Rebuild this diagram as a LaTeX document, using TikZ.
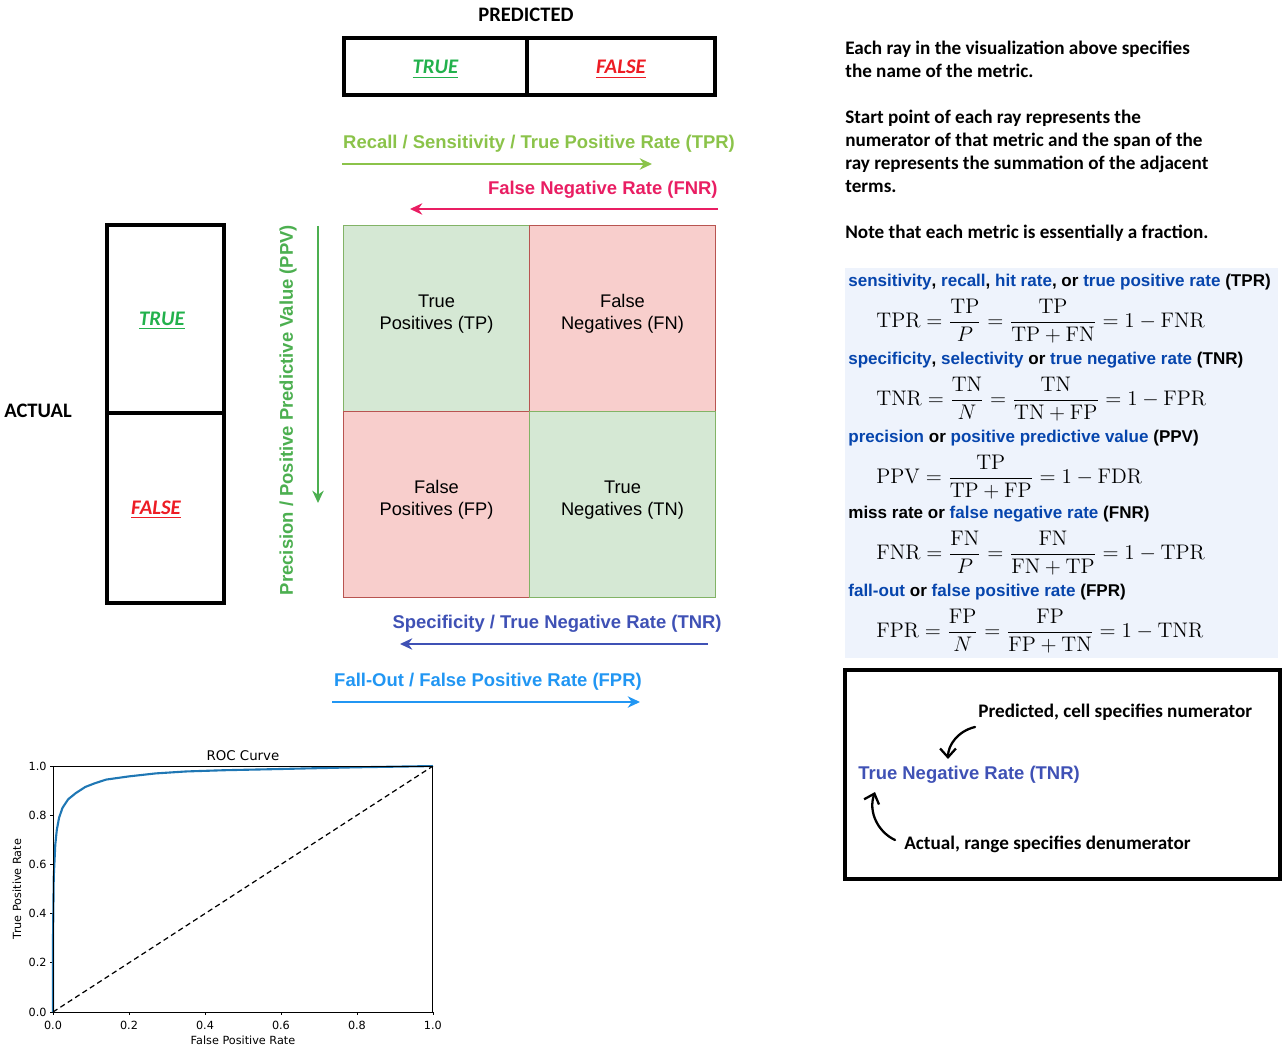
\documentclass[tikz,border=0pt]{standalone}
\usepackage{fontspec}
\usepackage{amsmath}
\usepackage{tikz}
\usetikzlibrary{arrows.meta,positioning}

\newfontfamily\calfont{Carlito}
\newfontfamily\arfont{Liberation Sans}
\newfontfamily\djfont{DejaVu Sans}

\definecolor{paintgreen}{HTML}{22B14C}
\definecolor{paintred}{HTML}{ED1C24}
\definecolor{tprgreen}{HTML}{8BC34A}
\definecolor{fnrpink}{HTML}{E91E63}
\definecolor{ppvgreen}{HTML}{4CAF50}
\definecolor{tnrblue}{HTML}{3F51B5}
\definecolor{fprblue}{HTML}{2196F3}
\definecolor{cellgreen}{HTML}{D5E8D4}
\definecolor{cellgreenline}{HTML}{82B366}
\definecolor{cellred}{HTML}{F8CECC}
\definecolor{cellredline}{HTML}{B85450}
\definecolor{wikilink}{HTML}{0645AD}
\definecolor{wikibg}{HTML}{EEF3FC}
\definecolor{rocblue}{HTML}{1F77B4}

\newcommand{\wl}[1]{\textcolor{wikilink}{#1}}

\begin{document}
\begin{tikzpicture}
    [x=0.02cm,y=-0.02cm,
     cell/.style={draw,line width=0.8pt,minimum width=3.72cm,minimum height=3.72cm,inner sep=0pt,outer sep=0pt,align=center,text depth=7pt,font=\arfont\fontsize{10.4}{12.5}\selectfont},
     poscell/.style={cell,fill=cellgreen,draw=cellgreenline},
     negcell/.style={cell,fill=cellred,draw=cellredline},
     headbox/.style={draw,line width=2.3pt,inner sep=0pt,outer sep=0pt,font=\calfont\bfseries\itshape\fontsize{11.8}{13}\selectfont},
     title/.style={font=\calfont\bfseries\fontsize{11.7}{13}\selectfont,inner sep=0pt},
     note/.style={font=\calfont\bfseries\fontsize{10.9}{12}\selectfont,inner sep=0pt,anchor=base west},
     ray/.style={line width=1pt,-{Stealth[length=7pt,width=6.5pt]}},
     raylabel/.style={font=\arfont\bfseries\fontsize{10.5}{12}\selectfont,inner sep=0pt},
     wikihead/.style={font=\arfont\bfseries\fontsize{9.7}{11}\selectfont,inner sep=0pt,anchor=west},
     formula/.style={font=\fontsize{12}{14}\selectfont,inner sep=0pt,anchor=west},
     hand/.style={line width=1.3pt,line cap=round,-{Straight Barb[length=5pt,width=9pt]}},
     tick/.style={font=\djfont\fontsize{6.4}{7}\selectfont,inner sep=1.5pt}]
    \useasboundingbox (0,0) rectangle (1286,1054);

    \node[title] (pred) at (526,15) {PREDICTED};
    \node[headbox,minimum width=3.66cm,minimum height=1.14cm,text height=10pt,text depth=1.5pt] (ptrue) at (435.5,66.5) {\textcolor{paintgreen}{\underline{TRUE}}};
    \node[headbox,minimum width=3.76cm,minimum height=1.14cm,text height=10pt,text depth=1.5pt,right=0pt of ptrue] (pfalse) {\textcolor{paintred}{\underline{FALSE}}};

    \node[title] (act) at (38,411) {ACTUAL};
    \node[headbox,minimum width=2.34cm,minimum height=3.76cm,text height=8.5pt,text depth=1.5pt] (atrue) at (165.5,319) {\textcolor{paintgreen}{\underline{TRUE}}\kern4pt};
    \node[headbox,minimum width=2.34cm,minimum height=3.8cm,text height=8.5pt,text depth=1.5pt,below=0pt of atrue] (afalse) {\textcolor{paintred}{\underline{FALSE}}\kern10.8pt};

    \node[poscell] (tp) at (436.5,318.5) {True\\Positives (TP)};
    \node[negcell,right=0pt of tp] (fn) {False\\Negatives (FN)};
    \node[negcell,below=0pt of tp] (fp) {False\\Positives (FP)};
    \node[poscell,below=0pt of fn] (tn) {True\\Negatives (TN)};

    \node[raylabel,tprgreen] (tprL) at (539,144) {Recall / Sensitivity / True Positive Rate (TPR)};
    \node[raylabel,fnrpink,anchor=east] (fnrL) at (718,190) {False Negative Rate (FNR)};
    \node[raylabel,ppvgreen,rotate=90] (ppvL) at (288,410) {Precision / Positive Predictive Value (PPV)};
    \node[raylabel,tnrblue,anchor=east] (tnrL) at (722,624) {Specificity / True Negative Rate (TNR)};
    \node[raylabel,fprblue] (fprL) at (488,682) {Fall-Out / False Positive Rate (FPR)};

    \coordinate (tprS) at (342,164); \coordinate (tprE) at (652,164);
    \coordinate (fnrS) at (718,209); \coordinate (fnrE) at (410,209);
    \coordinate (ppvS) at (318,226); \coordinate (ppvE) at (318,503);
    \coordinate (tnrS) at (708,644); \coordinate (tnrE) at (400,644);
    \coordinate (fprS) at (332,702); \coordinate (fprE) at (640,702);
    \foreach \from/\to/\col in {tprS/tprE/tprgreen,fnrS/fnrE/fnrpink,ppvS/ppvE/ppvgreen,tnrS/tnrE/tnrblue,fprS/fprE/fprblue}
      \draw [ray,\col] (\from) -- (\to);

    \foreach \y/\t in {55/Each ray in the visualization above specifies,
                       78/the name of the metric.,
                       124/Start point of each ray represents the,
                       147/numerator of that metric and the span of the,
                       170/ray represents the summation of the adjacent,
                       193/terms.,
                       239/Note that each metric is essentially a fraction.}
      \node[note] (note\y) at (845,\y) {\t};

    \fill[wikibg] (845,268) rectangle (1278,658);
    \node[wikihead] (h1) at (848,282) {\wl{sensitivity}, \wl{recall}, \wl{hit rate}, or \wl{true positive rate} (TPR)};
    \node[formula] (f1) at (876,321) {$\displaystyle \mathrm{TPR}=\frac{\mathrm{TP}}{P}=\frac{\mathrm{TP}}{\mathrm{TP}+\mathrm{FN}}=1-\mathrm{FNR}$};
    \node[wikihead] (h2) at (848,360) {\wl{specificity}, \wl{selectivity} or \wl{true negative rate} (TNR)};
    \node[formula] (f2) at (876,399) {$\displaystyle \mathrm{TNR}=\frac{\mathrm{TN}}{N}=\frac{\mathrm{TN}}{\mathrm{TN}+\mathrm{FP}}=1-\mathrm{FPR}$};
    \node[wikihead] (h3) at (848,438) {\wl{precision} or \wl{positive predictive value} (PPV)};
    \node[formula] (f3) at (876,477) {$\displaystyle \mathrm{PPV}=\frac{\mathrm{TP}}{\mathrm{TP}+\mathrm{FP}}=1-\mathrm{FDR}$};
    \node[wikihead] (h4) at (848,514) {miss rate or \wl{false negative rate} (FNR)};
    \node[formula] (f4) at (876,553) {$\displaystyle \mathrm{FNR}=\frac{\mathrm{FN}}{P}=\frac{\mathrm{FN}}{\mathrm{FN}+\mathrm{TP}}=1-\mathrm{TPR}$};
    \node[wikihead] (h5) at (848,592) {\wl{fall-out} or \wl{false positive rate} (FPR)};
    \node[formula] (f5) at (876,631) {$\displaystyle \mathrm{FPR}=\frac{\mathrm{FP}}{N}=\frac{\mathrm{FP}}{\mathrm{FP}+\mathrm{TN}}=1-\mathrm{TNR}$};

    \node[draw,line width=2.3pt,minimum width=8.7cm,minimum height=4.18cm,inner sep=0pt] (keybox) at (1062.5,774.5) {};
    \node[raylabel,tnrblue,anchor=west] (tnrex) at (858,775) {True Negative Rate (TNR)};
    \node[note,anchor=west] (predex) at (978,712) {Predicted, cell specifies numerator};
    \node[note,anchor=west] (actex) at (904,844) {Actual, range specifies denumerator};
    \coordinate (pa1) at (975,727); \coordinate (pa2) at (948,759);
    \coordinate (aa1) at (895,840); \coordinate (aa2) at (875,792);
    \draw[hand] (pa1) .. controls (958,731) and (948,745) .. (pa2);
    \draw[hand] (aa1) .. controls (878,832) and (868,812) .. (aa2);

    \begin{scope}[shift={(53,1012)},x=7.6cm,y=4.92cm]
      \node[tick,font=\djfont\fontsize{7.6}{8}\selectfont,above] (roct) at (0.5,1.01) {ROC Curve};
      \foreach \v in {0.0,0.2,0.4,0.6,0.8,1.0} {
        \draw[line width=0.4pt] (\v,0) -- (\v,-0.014);
        \node[tick,below,yshift=-1.5pt] (xt\v) at (\v,-0.014) {\v};
        \draw[line width=0.4pt] (0,\v) -- (-0.009,\v);
        \node[tick,left] (yt\v) at (-0.009,\v) {\v};
      }
      \node[tick,below=12pt] (xlab) at (0.5,0) {False Positive Rate};
      \node[tick,rotate=90] (ylab) at (-0.095,0.5) {True Positive Rate};
      \draw[dashed,line width=0.7pt,dash pattern=on 3pt off 2pt] (0,0) -- (1,1);
      \draw[rocblue,line width=1.2pt,line join=round] plot coordinates {(0,0) (0,0.3) (0.002,0.55) (0.006,0.68) (0.01,0.74) (0.016,0.79) (0.025,0.83) (0.04,0.865) (0.06,0.89) (0.085,0.915) (0.11,0.93) (0.14,0.945) (0.2,0.958) (0.27,0.97) (0.35,0.978) (0.45,0.983) (0.6,0.988) (0.8,0.995) (1,1)};
      \draw[line width=0.5pt] (0,0) rectangle (1,1);
    \end{scope}
  \end{tikzpicture}
\end{document}
